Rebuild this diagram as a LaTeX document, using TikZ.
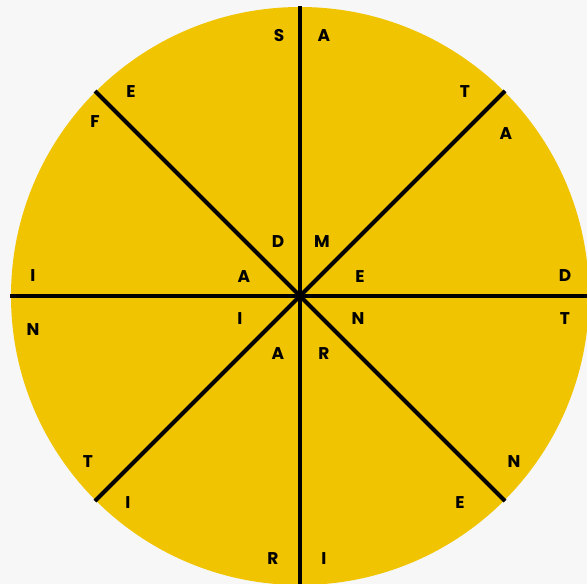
\documentclass[tikz,border=0pt]{standalone}
\usepackage{fontspec}
\setmainfont{Poppins}
\usepackage{tikz}
\usetikzlibrary{calc}
\definecolor{paper}{RGB}{247,247,247}
\definecolor{wheelgold}{RGB}{240,196,0}
\tikzset{
  spoke/.style={draw=black, line width=4.2pt},
  letter/.style={font=\bfseries\fontsize{17}{17}\selectfont, inner sep=0pt, text=black}
}
\begin{document}
\begin{tikzpicture}[x=1pt,y=-1pt]
\fill[paper] (0,0) rectangle (587,584);
\useasboundingbox (0,0) rectangle (587,584);
\clip (0,0) rectangle (587,584);
\coordinate (hub) at (300,296);
\fill[wheelgold] (hub) circle[radius=289pt];

% spokes
\coordinate (nn) at (300,6);   \coordinate (ss) at (300,590);
\coordinate (ww) at (10,296);  \coordinate (ee) at (592,296);
\coordinate (nw) at (95,91);   \coordinate (se) at (505,501);
\coordinate (ne) at (505,91);  \coordinate (sw) at (95,501);
\draw[spoke] (nn) -- (ss);
\draw[spoke] (ww) -- (ee);
\draw[spoke] (nw) -- (se);
\draw[spoke] (ne) -- (sw);

% letters
\foreach \ch/\px/\py [count=\i] in {S/279/36, A/324/36, E/131/92, T/465/92,
    F/95/122, A/506/134, D/278/242, M/322/242,
    I/33/276, A/244/277, E/360/277, D/565/276,
    N/33/330, I/240/319, N/358/319, T/565/319,
    A/278/354, R/324/354, T/88/462, N/514/462,
    I/128/503, E/460/503, R/273/559, I/324/559}
  \node[letter] (ltr\i) at (\px,\py) {\ch};
\end{tikzpicture}
\end{document}
